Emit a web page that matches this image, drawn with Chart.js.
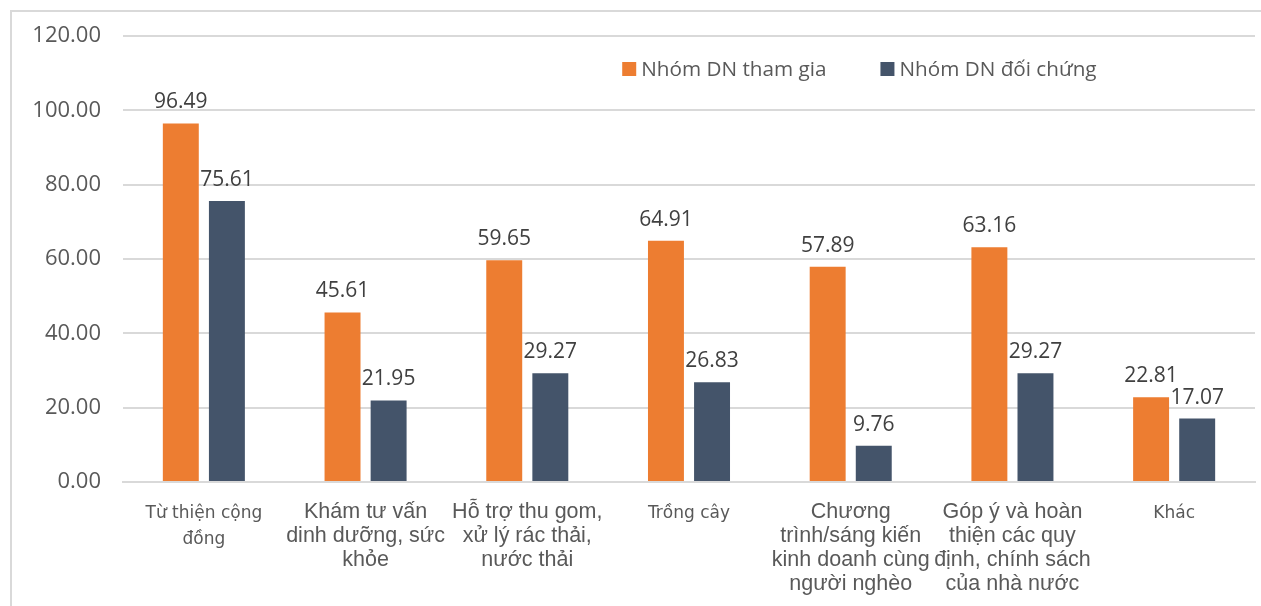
<!DOCTYPE html>
<html>
<head>
<meta charset="utf-8">
<script src="https://cdn.jsdelivr.net/npm/chart.js@4/dist/chart.umd.min.js"></script>
<style>
  html, body { margin: 0; padding: 0; background: #fff; overflow: hidden; }
  #frame { position: absolute; left: 10px; top: 10px; width: 1400px; height: 800px; border: 2px solid #d9d9d9; }
  #chart { position: absolute; left: 0; top: 0; }
</style>
</head>
<body>
<div id="frame"></div>
<canvas id="chart" width="1261" height="606"></canvas>
<script>
const categories = [
  ["Từ thiện cộng", "đồng"],
  ["Khám tư vấn", "dinh dưỡng, sức", "khỏe"],
  ["Hỗ trợ thu gom,", "xử lý rác thải,", "nước thải"],
  "Trồng cây",
  ["Chương", "trình/sáng kiến", "kinh doanh cùng", "người nghèo"],
  ["Góp ý và hoàn", "thiện các quy", "định, chính sách", "của nhà nước"],
  "Khác"
];
const seriesNames = ["Nhóm DN tham gia", "Nhóm DN đối chứng"];
const thamGia = [96.49, 45.61, 59.65, 64.91, 57.89, 63.16, 22.81];
const doiChung = [75.61, 21.95, 29.27, 26.83, 9.76, 29.27, 17.07];
const yTicks = [0, 20, 40, 60, 80, 100, 120];

const ORANGE = '#ED7D31';
const SLATE = '#44546A';
const GRID = '#d9d9d9';

// single-line labels (and the first one) are set in a smaller face
const smallFont = { family: 'DejaVu Sans', size: 17, lineHeight: 1.55 };
const catFont = { family: 'Liberation Sans, Arial', size: 21.5, lineHeight: 1.12 };

// value labels above each bar
const barValues = {
  id: 'barValues',
  afterDatasetsDraw(chart) {
    const ctx = chart.ctx;
    ctx.save();
    ctx.font = '21px "Open Sans"';
    ctx.fillStyle = '#404040';
    ctx.textAlign = 'center';
    ctx.textBaseline = 'alphabetic';
    chart.data.datasets.forEach((ds, i) => {
      chart.getDatasetMeta(i).data.forEach((bar, j) => {
        ctx.fillText(ds.data[j].toFixed(2), bar.x, bar.y - 15);
      });
    });
    ctx.restore();
  }
};

// legend sits inside the plot, upper right
const insideLegend = {
  id: 'insideLegend',
  afterDraw(chart) {
    const ctx = chart.ctx;
    const area = chart.chartArea;
    let x = area.left + area.width * 0.441;
    const y = 69;
    ctx.save();
    ctx.font = '20.7px "Open Sans"';
    ctx.textBaseline = 'middle';
    ctx.textAlign = 'left';
    chart.data.datasets.forEach(ds => {
      ctx.fillStyle = ds.backgroundColor;
      ctx.fillRect(x, y - 7, 14, 14);
      ctx.fillStyle = '#595959';
      ctx.fillText(ds.label, x + 19, y + 1);
      x += 19 + ctx.measureText(ds.label).width + 54;
    });
    ctx.restore();
  }
};

new Chart(document.getElementById('chart'), {
  type: 'bar',
  data: {
    labels: categories,
    datasets: [
      { label: seriesNames[0], data: thamGia, backgroundColor: ORANGE },
      { label: seriesNames[1], data: doiChung, backgroundColor: SLATE }
    ]
  },
  options: {
    responsive: false,
    animation: false,
    layout: { padding: { top: 36, right: 6, left: 0, bottom: 0 } },
    datasets: { bar: { categoryPercentage: 0.57, barPercentage: 0.78 } },
    plugins: { legend: { display: false }, tooltip: { enabled: false } },
    scales: {
      x: {
        grid: { display: false },
        border: { color: GRID, width: 2 },
        ticks: {
          color: '#595959',
          padding: 10,
          maxRotation: 0,
          autoSkip: false,
          font: c => typeof categories[c.index] === 'string' || c.index === 0 ? smallFont : catFont
        },
        afterFit: s => { s.height = 124; }
      },
      y: {
        min: 0,
        max: 120,
        afterBuildTicks: s => { s.ticks = yTicks.map(v => ({ value: v })); },
        grid: { color: GRID, lineWidth: 2, drawTicks: false },
        border: { display: false },
        ticks: {
          color: '#595959',
          padding: 22,
          font: { family: 'Open Sans', size: 22 },
          callback: v => Number(v).toFixed(2)
        },
        afterFit: s => { s.width = 123; }
      }
    }
  },
  plugins: [barValues, insideLegend]
});
</script>
</body>
</html>
